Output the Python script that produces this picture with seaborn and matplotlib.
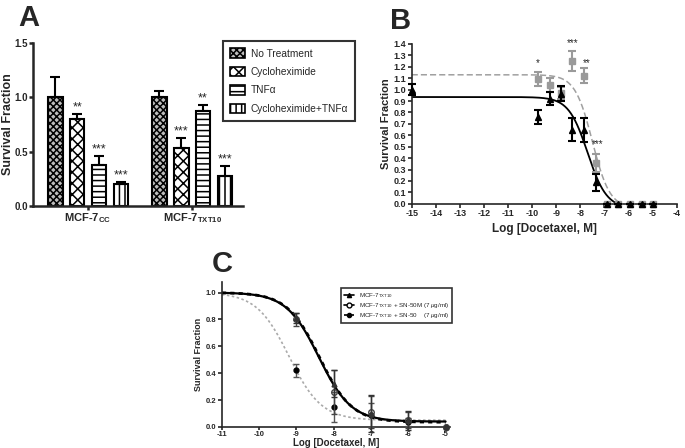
#!/usr/bin/env python3
"""Three-panel survival figure: bar chart (A) and docetaxel dose-response curves (B, C)."""

import numpy as np
import pandas as pd
import matplotlib
matplotlib.use('Agg')
import matplotlib.pyplot as plt
from matplotlib.patches import Patch
from matplotlib.lines import Line2D
import seaborn as sns

sns.set_style('ticks')
plt.rcParams['font.family'] = ['Liberation Sans', 'DejaVu Sans']
plt.rcParams['mathtext.fontset'] = 'custom'
plt.rcParams['mathtext.rm'] = 'Liberation Sans'
plt.rcParams['mathtext.bf'] = 'Liberation Sans:bold'
plt.rcParams['mathtext.it'] = 'Liberation Sans:italic'
plt.rcParams['hatch.linewidth'] = 1.1
plt.rcParams['axes.unicode_minus'] = False

# ---- panel A data ----
groups = [r'MCF-7$_{\mathbf{CC}}$', r'MCF-7$_{\mathbf{TXT10}}$']
treatments = ['No Treatment', 'Cycloheximide', 'TNF\u03b1', 'Cycloheximide+TNF\u03b1']
surv_cc = [1.0, 0.80, 0.375, 0.20]
surv_txt10 = [1.0, 0.53, 0.87, 0.275]
sem_cc = [0.19, 0.045, 0.085, 0.025]
sem_txt10 = [0.055, 0.10, 0.06, 0.09]
stars_cc = ['', '**', '***', '***']
stars_txt10 = ['', '***', '**', '***']

# ---- panel B data ----
log_conc_b = [-15, -9.76, -9.27, -8.8, -8.33, -7.86, -7.37, -6.9, -6.43, -5.94, -5.46, -4.97]
surv_b_black = [1.0, 0.76, 0.92, 0.965, 0.65, 0.65, 0.19, 0, 0, 0, 0, 0]
sem_b_black = [0.05, 0.06, 0.055, 0.065, 0.10, 0.105, 0.075, 0, 0, 0, 0, 0]
log_conc_b_gray = [-9.76, -9.27, -8.8, -8.33, -7.86, -7.37, -6.9, -6.43, -5.94, -5.46, -4.97]
surv_b_gray = [1.09, 1.04, 0.97, 1.25, 1.12, 0.355, 0, 0, 0, 0, 0]
sem_b_gray = [0.06, 0.06, 0.05, 0.09, 0.065, 0.08, 0, 0, 0, 0, 0]
stars_b_x = [-9.76, -8.33, -7.72, -7.3]
stars_b_y = [1.19, 1.36, 1.19, 0.48]
stars_b = ['*', '***', '**', '***']
fit_b_black = dict(top=0.935, bottom=-0.04, logec50=-7.7, hill=1.1)
fit_b_gray = dict(top=1.13, bottom=-0.04, logec50=-7.5, hill=1.2)

# ---- panel C data ----
log_conc_c = [-9, -8, -7, -6, -5]
surv_c_txt10 = [0.81, 0.32, 0.10, 0.05, 0.0]
sem_c_txt10 = [0.04, 0.10, 0.14, 0.07, 0.0]
surv_c_sn50m = [0.80, 0.26, 0.11, 0.05, 0.0]
sem_c_sn50m = [0.05, 0.16, 0.12, 0.06, 0.0]
surv_c_sn50 = [0.42, 0.15, 0.09, 0.04, 0.0]
sem_c_sn50 = [0.05, 0.11, 0.09, 0.03, 0.0]
fit_c_txt10 = dict(top=1.0, bottom=0.04, logec50=-8.4, hill=1.0)
fit_c_sn50m = dict(top=1.0, bottom=0.035, logec50=-8.38, hill=1.0)
fit_c_sn50 = dict(top=1.0, bottom=0.05, logec50=-9.2, hill=1.0)
legend_c = [r'MCF-7$_{\mathrm{TXT10}}$',
            r'MCF-7$_{\mathrm{TXT10}}$ + SN-50M (7 $\mu$g/ml)',
            r'MCF-7$_{\mathrm{TXT10}}$ + SN-50    (7 $\mu$g/ml)']


def logistic(x, top, bottom, logec50, hill):
    return bottom + (top - bottom) / (1 + 10 ** ((x - logec50) * hill))


def style_axis(ax, lw):
    sns.despine(ax=ax)
    for s in ('left', 'bottom'):
        ax.spines[s].set_linewidth(lw)
    ax.tick_params(width=lw, length=3, pad=1)


fig = plt.figure(figsize=(6.85, 4.48), dpi=100)

# ================= A =================
ax_a = fig.add_axes([0.048, 0.540, 0.307, 0.364])
df_a = pd.DataFrame({'group': np.repeat(groups, 4),
                     'treatment': treatments * 2,
                     'surv': surv_cc + surv_txt10})
face = ['#bdbdbd', 'white', 'white', 'white']
hatches = ['xxxxx', 'xxx', '---', '|||']
sns.barplot(data=df_a, x='group', y='surv', hue='treatment', order=groups,
            hue_order=treatments, palette=face, width=0.84, gap=0.33,
            errorbar=None, edgecolor='black', linewidth=1.5, saturation=1,
            legend=False, ax=ax_a)
sems = [sem_cc, sem_txt10]
stars = [stars_cc, stars_txt10]
bar_containers = list(ax_a.containers)
for i, cont in enumerate(bar_containers):
    for j, p in enumerate(cont):
        p.set_hatch(hatches[i])
        x = p.get_x() + p.get_width() / 2
        h = p.get_height()
        e = sems[j][i]
        ax_a.errorbar(x, h, yerr=[[0], [e]], fmt='none', ecolor='black',
                      elinewidth=1.5, capsize=3.5, capthick=1.5, zorder=1)
        if stars[j][i]:
            ax_a.text(x, h + e + 0.005, stars[j][i], ha='center', va='bottom',
                      fontsize=9)
ax_a.set_xlim(-0.53, 1.49)
ax_a.set_ylim(0, 1.5)
ax_a.set_yticks([0, 0.5, 1.0, 1.5])
ax_a.set_yticklabels(['0.0', '0.5', '1.0', '1.5'], fontweight='bold', fontsize=7)
ax_a.set_xticks([0, 1])
ax_a.set_xticklabels(groups, fontweight='bold', fontsize=8)
ax_a.set_xlabel('')
ax_a.set_ylabel('Survival Fraction', fontweight='bold', fontsize=9)
ax_a.yaxis.set_label_coords(-0.092, 0.5)
style_axis(ax_a, 1.8)
ax_a.tick_params(axis='y', pad=0.5)
handles = [Patch(facecolor=face[k], edgecolor='black', hatch=hatches[k], lw=1.2)
           for k in range(4)]
leg = ax_a.legend(handles, treatments, loc='upper left',
                  bbox_to_anchor=(0.326, 0.908), bbox_transform=fig.transFigure,
                  fontsize=7.3, frameon=True, fancybox=False, handlelength=1.4,
                  handleheight=1.1, handletextpad=0.6, labelspacing=0.8,
                  borderpad=0.7, borderaxespad=0)
leg.get_frame().set_edgecolor('black')
leg.get_frame().set_linewidth(1.5)

# ================= B =================
ax_b = fig.add_axes([0.601, 0.545, 0.387, 0.357])
xs_b = np.linspace(-15, -4, 400)
sns.lineplot(x=xs_b, y=logistic(xs_b, **fit_b_gray), ax=ax_b, color='#a0a0a0',
             lw=1.1, linestyle=(0, (4, 2)))
sns.lineplot(x=xs_b, y=logistic(xs_b, **fit_b_black), ax=ax_b, color='black', lw=1.3)
ax_b.errorbar(log_conc_b_gray, surv_b_gray, yerr=sem_b_gray, fmt='s', ms=4,
              color='#9a9a9a', ecolor='#9a9a9a', elinewidth=1.5, capsize=3,
              capthick=1.5, clip_on=False, zorder=3)
ax_b.errorbar(log_conc_b, surv_b_black, yerr=sem_b_black, fmt='^', ms=4,
              color='black', ecolor='black', elinewidth=1.5, capsize=3,
              capthick=1.5, clip_on=False, zorder=4)
for sx, sy, st in zip(stars_b_x, stars_b_y, stars_b):
    ax_b.text(sx, sy, st, ha='center', va='bottom', fontsize=7, clip_on=False)
ax_b.set_xlim(-15, -4)
ax_b.set_ylim(0, 1.4)
ax_b.set_xticks(range(-15, -3))
ax_b.set_yticks(np.arange(0, 15) / 10)
ax_b.set_yticklabels([f'{v / 10:.1f}' for v in range(15)])
for t in ax_b.get_xticklabels() + ax_b.get_yticklabels():
    t.set_fontsize(6.5)
    t.set_fontweight('bold')
ax_b.set_xlabel('Log [Docetaxel, M]', fontweight='bold', fontsize=8.5, labelpad=3)
ax_b.set_ylabel('Survival Fraction', fontweight='bold', fontsize=8, labelpad=2)
style_axis(ax_b, 1.2)

# ================= C =================
ax_c = fig.add_axes([0.324, 0.047, 0.333, 0.324])
xs_c = np.linspace(-11, -5, 400)
sns.lineplot(x=xs_c, y=logistic(xs_c, **fit_c_sn50), ax=ax_c, color='#aaaaaa',
             lw=1.2, linestyle=(0, (1.5, 1.5)))
sns.lineplot(x=xs_c, y=logistic(xs_c, **fit_c_txt10), ax=ax_c, color='black', lw=1.6)
sns.lineplot(x=xs_c, y=logistic(xs_c, **fit_c_sn50m), ax=ax_c, color='black',
             lw=2.0, linestyle=(0, (1.5, 1.5)))
ax_c.errorbar(log_conc_c, surv_c_sn50, yerr=sem_c_sn50, fmt='o', ms=3.5,
              color='black', ecolor='#555555', elinewidth=1, capsize=2.5,
              clip_on=False, zorder=3)
ax_c.errorbar(log_conc_c, surv_c_sn50m, yerr=sem_c_sn50m, fmt='o', ms=4,
              mfc='none', color='#444444', ecolor='#444444', elinewidth=1,
              capsize=2.5, clip_on=False, zorder=4)
ax_c.errorbar(log_conc_c, surv_c_txt10, yerr=sem_c_txt10, fmt='^', ms=3.5,
              color='#333333', ecolor='#333333', elinewidth=1, capsize=2.5,
              clip_on=False, zorder=5)
ax_c.set_xlim(-11, -4.88)
ax_c.set_ylim(0, 1.08)
ax_c.set_xticks(range(-11, -4))
ax_c.set_yticks([0, 0.2, 0.4, 0.6, 0.8, 1.0])
ax_c.set_yticklabels(['0.0', '0.2', '0.4', '0.6', '0.8', '1.0'])
for t in ax_c.get_xticklabels() + ax_c.get_yticklabels():
    t.set_fontsize(5.5)
    t.set_fontweight('bold')
ax_c.set_xlabel('Log [Docetaxel, M]', fontweight='bold', fontsize=7, labelpad=0)
ax_c.set_ylabel('Survival Fraction', fontweight='bold', fontsize=6.5, labelpad=2)
style_axis(ax_c, 1.2)
ax_c.tick_params(axis='x', pad=0.5, length=2.5)
handles_c = [
    Line2D([], [], color='black', lw=1.2, marker='^', ms=3),
    Line2D([], [], color='black', lw=1.2, marker='o', ms=3.5, mfc='white'),
    Line2D([], [], color='black', lw=1.2, marker='o', ms=3, linestyle=(0, (2, 2))),
]
leg_c = ax_c.legend(handles_c, legend_c, loc='upper left',
                    bbox_to_anchor=(341 / 685, 1 - 288 / 448),
                    bbox_transform=fig.transFigure, fontsize=4.5,
                    fancybox=False, handlelength=1.6, handletextpad=0.8,
                    labelspacing=0.2, borderpad=0.45, borderaxespad=0)
leg_c.get_frame().set_edgecolor('black')
leg_c.get_frame().set_linewidth(1.2)

# panel letters
fig.text(18 / 685, 1 - 26 / 448, 'A', fontsize=21, fontweight='bold')
fig.text(390 / 685, 1 - 29 / 448, 'B', fontsize=21, fontweight='bold')
fig.text(212 / 685, 1 - 272 / 448, 'C', fontsize=21, fontweight='bold')

fig.savefig('out.png', dpi=100)
plt.close(fig)
